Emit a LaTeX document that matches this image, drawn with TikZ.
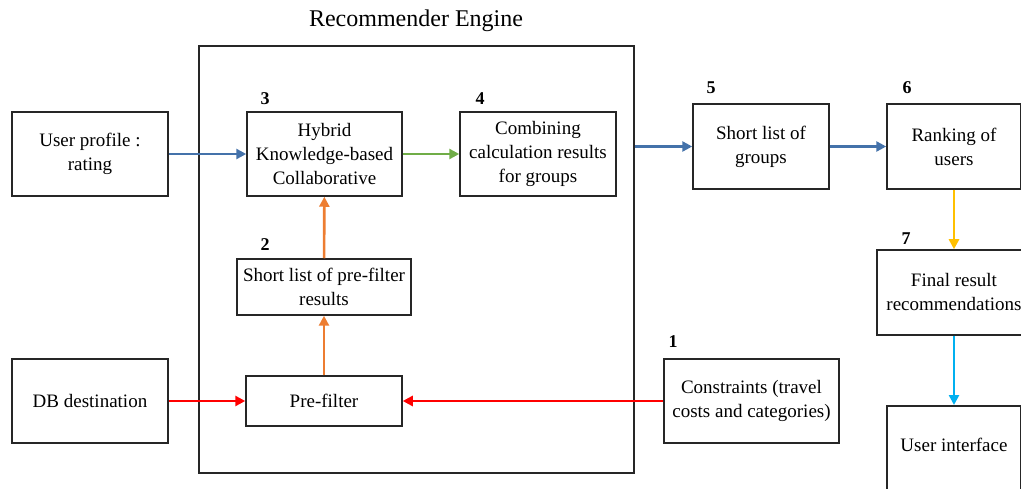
\documentclass[tikz,border=0pt]{standalone}
\usepackage{fontspec}
\setmainfont{Liberation Serif}
\usetikzlibrary{arrows.meta}

\definecolor{flowblue}{RGB}{68,114,170}
\definecolor{flowgreen}{RGB}{112,173,71}
\definecolor{floworange}{RGB}{237,125,49}
\definecolor{flowred}{RGB}{255,0,0}
\definecolor{flowgold}{RGB}{255,192,0}
\definecolor{flowcyan}{RGB}{0,176,240}

\tikzset{
  block/.style={draw=black!85, line width=1.5pt, align=center, inner sep=1pt,
    font=\fontsize{19}{24}\selectfont},
  stepnum/.style={font=\bfseries\fontsize{18}{20}\selectfont, inner sep=0pt},
  flow/.style={->, line width=2.6pt},
}

\begin{document}
\begin{tikzpicture}[>={Triangle[length=10pt,width=10pt]}, x=1pt, y=-1pt]
    \useasboundingbox (0,0) rectangle (1021,489);

    % Engine frame and its title
    \node[draw=black!85, line width=1.5pt, minimum width=435pt, minimum height=427pt] (engine) at (416.5,259.5) {};
    \node[font=\fontsize{24}{28}\selectfont] (title) at (416,21) {Recommender Engine};

    % Inputs on the left
    \node[block, minimum width=156pt, minimum height=84pt] (user) at (90,154) {User profile :\\rating};
    \node[block, minimum width=156pt, minimum height=84pt] (db) at (90,401) {DB destination};

    % Blocks inside the engine
    \node[block, minimum width=155pt, minimum height=84pt] (hybrid) at (324.5,154) {Hybrid\\Knowledge-based\\Collaborative};
    \node[block, minimum width=156pt, minimum height=84pt] (combine) at (538,154) {Combining\\calculation results\\for groups};
    \node[block, minimum width=174pt, minimum height=56pt] (prelist) at (324,287) {Short list of pre-filter\\results};
    \node[block, minimum width=156pt, minimum height=50pt] (prefilter) at (324,401) {Pre-filter};

    % Outputs on the right
    \node[block, minimum width=136pt, minimum height=85pt] (groups) at (761,146.5) {Short list of\\groups};
    \node[block, minimum width=134pt, minimum height=85pt] (ranking) at (954,146.5) {Ranking of\\users};
    \node[block, minimum width=154pt, minimum height=85pt] (final) at (954,292.5) {Final result\\recommendations};
    \node[block, anchor=north, minimum width=134pt, inner ysep=0pt, text height=46pt, text depth=54pt] (ui) at (954,405) {User interface};
    \node[block, minimum width=175pt, minimum height=84pt] (constraints) at (751.5,401) {Constraints (travel\\costs and categories)};

    % Step numbers
    \node[stepnum] (n1) at (673,342) {1};
    \node[stepnum] (n2) at (265,245) {2};
    \node[stepnum] (n3) at (265,99) {3};
    \node[stepnum] (n4) at (480,99) {4};
    \node[stepnum] (n5) at (711,88) {5};
    \node[stepnum] (n6) at (907,88) {6};
    \node[stepnum] (n7) at (906,239) {7};

    % Data flow
    \draw[flow, flowblue] (user) -- (hybrid);
    \draw[flow, flowgreen] (hybrid) -- (combine);
    \draw[flow, flowblue] (engine.east |- groups.west) -- (groups.west);
    \draw[flow, flowblue] (groups) -- (ranking);
    \draw[flow, flowgold] (ranking) -- (final);
    \draw[flow, flowcyan] (final) -- (ui);
    \draw[flow, floworange] (prefilter) -- (prelist);
    \draw[flow, floworange] (prelist) -- (hybrid);
    \draw[flow, flowred] (db) -- (prefilter);
    \draw[flow, flowred] (constraints) -- (prefilter);
\end{tikzpicture}
\end{document}
